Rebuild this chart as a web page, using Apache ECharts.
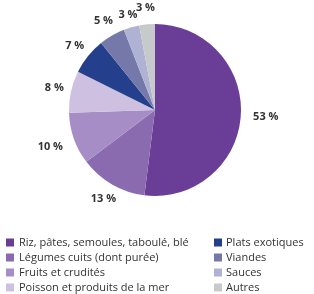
<!DOCTYPE html>
<html><head><meta charset="utf-8">
<script src="https://cdn.jsdelivr.net/npm/echarts@6/dist/echarts.min.js"></script>
<style>html,body{margin:0;padding:0;background:#fff}#c{width:314px;height:294px}</style>
</head><body><div id="c"></div>
<script>
const categories = ["Riz, pâtes, semoules, taboulé, blé","Légumes cuits (dont purée)","Fruits et crudités","Poisson et produits de la mer","Plats exotiques","Viandes","Sauces","Autres"];
const values = [53,13,10,8,7,5,3,3];
const colors = ["#6a3d97","#8a6bb0","#a68dc6","#cdc0e0","#243f8b","#7479a9","#b0b2d4","#c8c9cb"];
// which label ring each label sits on (0 = near, 1 = middle, 2 = far)
const labelRingOf = [2,1,2,1,1,1,0,1];
const chart = echarts.init(document.getElementById('c'));
const fontFam = "'Open Sans', sans-serif";
function legendBase(pad){ return {orient:'vertical', top:236, height:90, itemWidth:8, itemHeight:8, itemGap:2, icon:'rect', padding:0,
     textStyle:{fontSize:11, color:'#333', fontFamily:fontFam, padding:[0,0,0,pad], lineHeight:13}}; }
const labelStyle = {position:'inside', formatter:'{c} %', color:'#333', fontWeight:'bold', fontSize:11, fontFamily:fontFam, textBorderWidth:0};
function labelRing(radius, ring){
  return {
    type:'pie', center:[155,110], radius:radius, startAngle:90, clockwise:true, silent:true, legendHoverLink:false,
    itemStyle:{color:'rgba(0,0,0,0)', borderWidth:0},
    emphasis:{disabled:true},
    labelLine:{show:false},
    labelLayout:{hideOverlap:false},
    data: categories.map((n,i)=>({name:n, value:values[i], label:Object.assign({show: labelRingOf[i]===ring}, labelStyle)}))
  };
}
chart.setOption({
  animation:false,
  color: colors,
  legend:[
    Object.assign({data:categories.slice(0,4), left:6}, legendBase(0)),
    Object.assign({data:categories.slice(4), left:214}, legendBase(-1))
  ],
  series:[{
    type:'pie', center:[155,110], radius:86, startAngle:90, clockwise:true,
    label:{show:false},
    labelLine:{show:false},
    itemStyle:{borderWidth:0},
    data: categories.map((n,i)=>({name:n, value:values[i]}))
  },
  labelRing([88,104], 0),
  labelRing([90,110], 1),
  labelRing([98,118], 2)
  ]
});
</script></body></html>
